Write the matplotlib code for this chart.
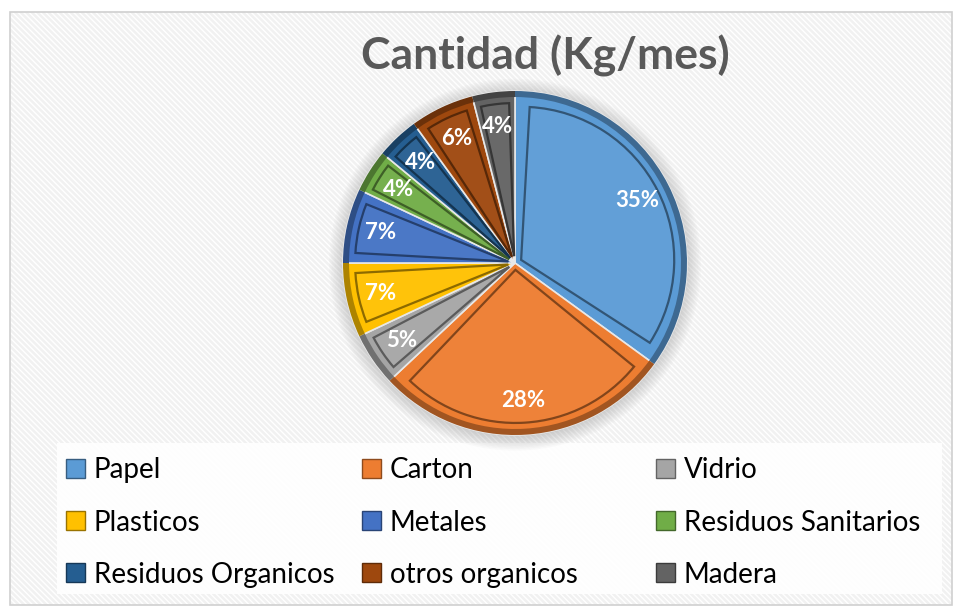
import matplotlib
matplotlib.use("Agg")
import matplotlib.pyplot as plt
import matplotlib.colors as mcolors
from matplotlib.patches import Rectangle, Wedge, Circle
import numpy as np

categories = ["Papel", "Carton", "Vidrio", "Plasticos", "Metales",
              "Residuos Sanitarios", "Residuos Organicos", "otros organicos", "Madera"]
percentages = [35, 28, 5, 7, 7, 4, 4, 6, 4]
colors = ["#5B9BD5", "#ED7D31", "#A5A5A5", "#FFC000", "#4472C4",
          "#70AD47", "#255E91", "#9E480E", "#636363"]
title = "Cantidad (Kg/mes)"

plt.rcParams['font.family'] = ['Lato', 'DejaVu Sans']

W, H = 958, 607
fig = plt.figure(figsize=(W / 100, H / 100), dpi=100)
fig.patch.set_facecolor("white")

def fx(px):
    return px / W

def fy(py):
    return 1 - py / H

# chart area with subtle diagonal pattern
bg = Rectangle((fx(10), fy(605)), fx(952) - fx(10), fy(12) - fy(605),
               transform=fig.transFigure, facecolor="#f1f1f1", edgecolor="#ffffff",
               hatch="\\\\\\\\\\\\", linewidth=0, zorder=-3)
fig.patches.append(bg)
frame = Rectangle((fx(10), fy(605)), fx(952) - fx(10), fy(12) - fy(605),
                  transform=fig.transFigure, facecolor="none", edgecolor="#d0d0d0",
                  linewidth=1.2, zorder=-2)
fig.patches.append(frame)
# legend white panel
lgbox = Rectangle((fx(57), fy(594)), fx(942) - fx(57), fy(443) - fy(594),
                  transform=fig.transFigure, facecolor="white", edgecolor="none",
                  alpha=0.92, zorder=-2)
fig.patches.append(lgbox)

fig.text(fx(545), fy(56), title, ha="center", va="center", fontsize=32,
         fontweight="bold", color="#595959")

cx, cy, r = 515, 263, 172
ax = fig.add_axes([fx(cx - r - 20), fy(cy + r + 20), (2 * r + 40) / W, (2 * r + 40) / H],
                  zorder=2)
ax.set_facecolor("none")

def shade(c, f):
    rgb = np.array(mcolors.to_rgb(c))
    if f < 1:
        return tuple(rgb * f)
    return tuple(rgb + (1 - rgb) * (f - 1))

# soft shadow behind pie
for k in range(10):
    ax.add_patch(Circle((0.0, -0.01), 1.0 + 0.009 * k, facecolor="#808080",
                        edgecolor="none", alpha=0.035, zorder=0))

wedges, texts, autotexts = ax.pie(
    percentages, colors=colors, startangle=90, counterclock=False,
    autopct="%d%%", pctdistance=0.8,
    wedgeprops=dict(edgecolor="#e8e8e8", linewidth=1.2, zorder=1),
    textprops=dict(color="white", fontsize=16, fontweight="bold"))

# bevel effect
for w, c in zip(wedges, colors):
    t1, t2 = w.theta1, w.theta2
    span = t2 - t1
    d = min(3.2, span * 0.13)
    mid = np.deg2rad((t1 + t2) / 2)
    off = 0.04
    ccx, ccy = off * np.cos(mid), off * np.sin(mid)
    inner = Wedge((ccx, ccy), 0.89, t1 + d, t2 - d, facecolor=shade(c, 1.04),
                  edgecolor=shade(c, 0.55), linewidth=1.6, zorder=3)
    ax.add_patch(inner)
    rim = Wedge((0, 0), 1.0, t1, t2, width=0.035, facecolor=shade(c, 0.68),
                edgecolor="none", zorder=3)
    ax.add_patch(rim)

for t in autotexts:
    t.set_zorder(5)

lim = (r + 20) / r
ax.set_xlim(-lim, lim)
ax.set_ylim(-lim, lim)
ax.set_aspect("equal")

# legend: three columns, each with three rows
col_x = [47, 343, 637]
for k in range(3):
    idx = [k, k + 3, k + 6]
    handles = [Rectangle((0, 0), 1, 1, facecolor=colors[i], edgecolor=shade(colors[i], 0.6),
                         linewidth=1) for i in idx]
    labels = [categories[i] for i in idx]
    leg = fig.legend(handles, labels, ncol=1, loc="upper left",
                     bbox_to_anchor=(fx(col_x[k]), fy(438)), frameon=False, fontsize=20,
                     handlelength=0.68, handleheight=0.68, handletextpad=0.3,
                     labelspacing=0.94, borderpad=0.2)
    for t in leg.get_texts():
        t.set_color("#000000")

fig.savefig("out.png", dpi=100, facecolor="white")
